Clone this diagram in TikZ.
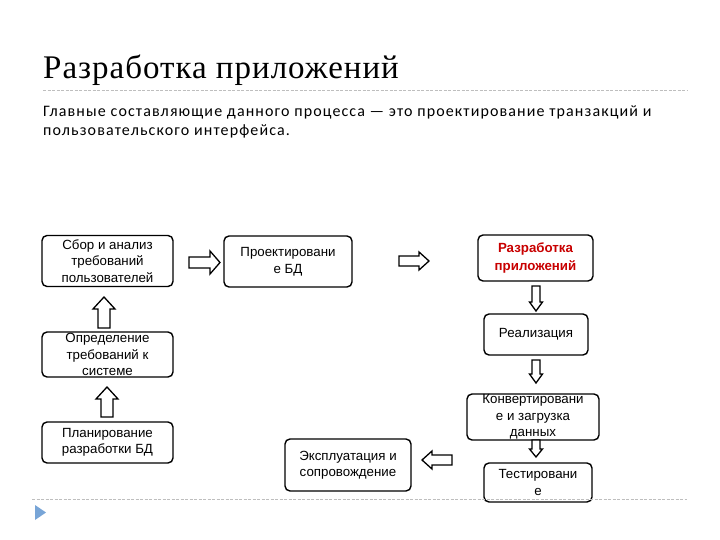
\documentclass[tikz,border=0pt]{standalone}
\usepackage{fontspec}
\setmainfont{Liberation Sans}
\newfontfamily\titlefont[LetterSpace=3]{Liberation Serif}
\newfontfamily\leadfont[LetterSpace=7]{Carlito}
\usepackage{tikz}
\definecolor{sepgray}{RGB}{190,190,190}
\definecolor{darkred}{RGB}{200,0,0}
\definecolor{bulletblue}{RGB}{120,165,215}
\tikzset{
  stagebox/.style={draw, line width=1.4pt, rounded corners=5pt, align=center, inner sep=0pt,
    font=\fontsize{13.3}{16.5}\selectfont},
  arrowbox/.style={draw, line width=1.3pt, fill=white, line join=miter},
  sepline/.style={sepgray, line width=0.8pt, dash pattern=on 3pt off 1.5pt}
}
% block arrow: tail point, angle, length, shaft half width, head half width, head length
\newcommand{\blockarrow}[6]{%
\draw[arrowbox, shift={(#1)}, rotate=#2] (0,-#4) -- (#3-#6,-#4) -- (#3-#6,-#5) -- (#3,0) -- (#3-#6,#5) -- (#3-#6,#4) -- (0,#4) -- cycle;}

\begin{document}
\begin{tikzpicture}[x=1pt,y=-1pt]
\useasboundingbox (0,0) rectangle (720,540);

% heading
\node[anchor=base west, inner sep=0pt, font=\titlefont\fontsize{33}{36}\selectfont] (title) at (43,79) {Разработка приложений};
\draw[sepline] (43,90) -- (687,90);
\node[anchor=base west, inner sep=0pt, align=left, font=\leadfont\fontsize{16}{18.5}\selectfont] (lead) at (43,135.5)
  {Главные составляющие данного процесса — это проектирование транзакций и\\пользовательского интерфейса.};

% stages
\node[stagebox, minimum width=131, minimum height=51] (sbor) at (107.5,261) {Сбор и анализ\\требований\\пользователей};
\node[stagebox, minimum width=128, minimum height=51] (proekt) at (288,261.5) {Проектировани\\е БД};
\node[stagebox, minimum width=115, minimum height=46, text=darkred, font=\bfseries\fontsize{13.3}{18}\selectfont] (razrab) at (535.5,258) {Разработка\\приложений};
\node[stagebox, minimum width=104, minimum height=41] (realiz) at (536,334.5) {Реализация};
\node[stagebox, minimum width=131, minimum height=45] (opred) at (107.5,354.5) {Определение\\требований к\\системе};
\node[stagebox, minimum width=131, minimum height=41] (plan) at (107.5,442.5) {Планирование\\разработки БД};
\node[stagebox, minimum width=126, minimum height=52] (expl) at (348,465) {Эксплуатация и\\сопровождение};
\node[stagebox, minimum width=132, minimum height=46] (konv) at (533,417) {Конвертировани\\е и загрузка\\данных};
\node[stagebox, minimum width=108, minimum height=39] (test) at (538,482.5) {Тестировани\\е};

% block arrows
\blockarrow{189,262.5}{0}{31}{5.5}{11.5}{10}
\blockarrow{399,261}{0}{30}{5}{9}{10}
\blockarrow{536,286}{-90}{25}{4}{6.5}{9}
\blockarrow{536,360}{-90}{23}{4}{6.5}{9}
\blockarrow{536,440}{-90}{17}{4}{6.5}{8}
\blockarrow{452,460}{180}{30}{5}{9}{10}
\blockarrow{104,328}{90}{31}{6}{11}{12}
\blockarrow{107,417}{90}{30}{6}{11}{12}

% footer
\draw[sepline] (32,499) -- (687,499);
\fill[bulletblue] (35,505) -- (46,512.5) -- (35,520) -- cycle;
\end{tikzpicture}
\end{document}
